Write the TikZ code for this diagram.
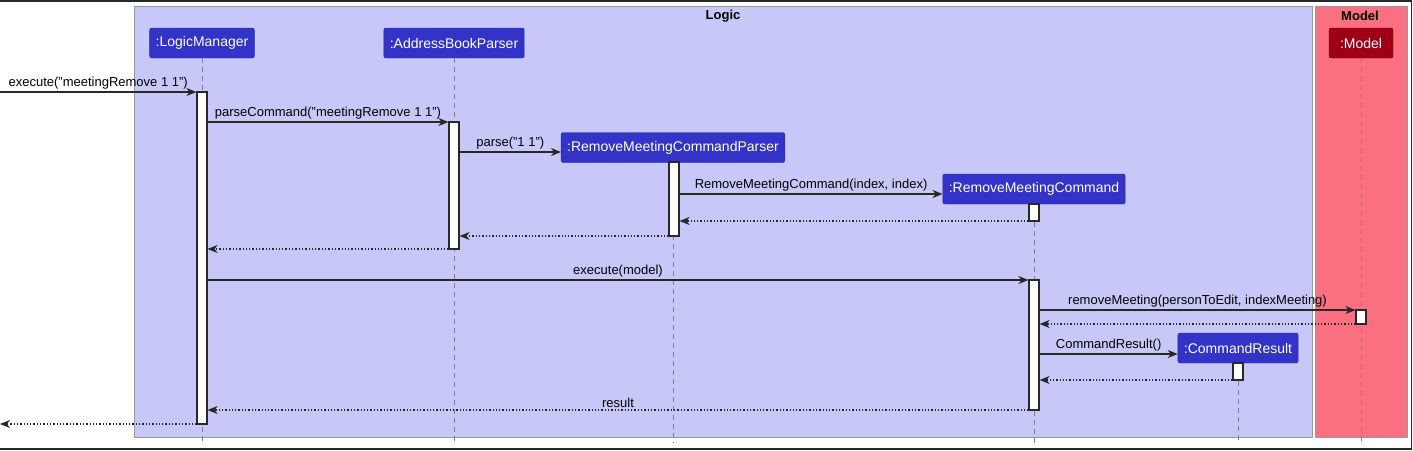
\documentclass[tikz,border=0pt]{standalone}
\usepackage{fontspec}
\setmainfont{Liberation Sans}
\usetikzlibrary{arrows.meta}
\definecolor{logicbg}{RGB}{200,200,248}
\definecolor{modelbg}{RGB}{250,112,128}
\definecolor{partblue}{RGB}{51,51,200}
\definecolor{partred}{RGB}{160,0,22}
\definecolor{lineclr}{RGB}{40,40,40}
\begin{document}
\begin{tikzpicture}[x=1pt,y=-1pt,
  part/.style={rectangle, rounded corners=2pt, draw=partblue!80!black, fill=partblue, text=white, minimum height=30pt, inner xsep=6pt, font=\fontsize{14}{16}\selectfont},
  bar/.style={rectangle, draw=lineclr, fill=white, line width=1.1pt, minimum width=10pt, inner sep=0pt},
  life/.style={draw=gray, dash pattern=on 5pt off 4pt, semithick},
  msg/.style={draw=lineclr, line width=1.1pt, -{Stealth[length=10pt,width=8pt,inset=3pt]}},
  ret/.style={msg, dash pattern=on 1.3pt off 2pt},
  lbl/.style={above, inner sep=2pt, text=black, font=\fontsize{13}{15}\selectfont},
  title/.style={font=\bfseries\fontsize{13}{15}\selectfont}]
\useasboundingbox (0,0) rectangle (1413,450);
% frame and boxes
\draw[lineclr, line width=1.5pt] (0,0.75) -- (1411.25,0.75) -- (1411.25,448.75) -- (0,448.75);
\draw[fill=logicbg, draw=gray!80] (134,6) rectangle (1312,437);
\draw[fill=modelbg, draw=gray!80] (1315,6) rectangle (1407,437);
\node[title] (logic) at (723,16) {Logic};
\node[title] (model) at (1360,16) {Model};
% participants
\node[part] (lm) at (202,43) {:LogicManager};
\node[part] (abp) at (454,43) {:AddressBookParser};
\node[part] (rp) at (673,147.5) {:RemoveMeetingCommandParser};
\node[part] (rc) at (1034,189) {:RemoveMeetingCommand};
\node[part] (cr) at (1238,348) {:CommandResult};
\node[part, fill=partred, draw=partred!80!black, minimum width=64pt] (md) at (1361,43) {:Model};
% lifelines
\path[life] (lm) -- (lm |- 0,443);
\path[life] (abp) -- (abp |- 0,443);
\path[life] (rp) -- (rp |- 0,443);
\path[life] (rc) -- (rc |- 0,443);
\path[life] (cr) -- (cr |- 0,443);
\path[life, draw=partred!60] (md) -- (md |- 0,443);
% activations
\node[bar, minimum height=332pt] (lmA) at (202,258) {};
\node[bar, minimum height=127pt] (abpA) at (454,185.5) {};
\node[bar, minimum height=74pt] (rpA) at (674,199) {};
\node[bar, minimum height=17pt] (rcA) at (1034,212.5) {};
\node[bar, minimum height=130pt] (rcB) at (1034,345) {};
\node[bar, minimum height=14pt] (mA) at (1361,317) {};
\node[bar, minimum height=17pt] (crA) at (1238,371.5) {};
\coordinate (in) at (0,92);
\coordinate (out) at (0,424);
% messages
\path[msg] (in) -- node[lbl] {execute("meetingRemove 1 1")} (lmA.west |- 0,92);
\path[msg] (lmA.east |- 0,122) -- node[lbl] {parseCommand("meetingRemove 1 1")} (abpA.west |- 0,122);
\path[msg] (abpA.east |- 0,152) -- node[lbl] {parse("1 1")} (rp.west |- 0,152);
\path[msg] (rpA.east |- 0,194) -- node[lbl] {RemoveMeetingCommand(index, index)} (rc.west |- 0,194);
\path[ret] (rcA.west |- 0,221) -- (rpA.east |- 0,221);
\path[ret] (rpA.west |- 0,236) -- (abpA.east |- 0,236);
\path[ret] (abpA.west |- 0,249) -- (lmA.east |- 0,249);
\path[msg] (lmA.east |- 0,280) -- node[lbl] {execute(model)} (rcB.west |- 0,280);
\path[msg] (rcB.east |- 0,310) -- node[lbl] {removeMeeting(personToEdit, indexMeeting)} (mA.west |- 0,310);
\path[ret] (mA.west |- 0,324) -- (rcB.east |- 0,324);
\path[msg] (rcB.east |- 0,354) -- node[lbl] {CommandResult()} (cr.west |- 0,354);
\path[ret] (crA.west |- 0,380) -- (rcB.east |- 0,380);
\path[ret] (rcB.west |- 0,410) -- node[lbl] {result} (lmA.east |- 0,410);
\path[ret] (lmA.west |- 0,424) -- (out);
\end{tikzpicture}
\end{document}
